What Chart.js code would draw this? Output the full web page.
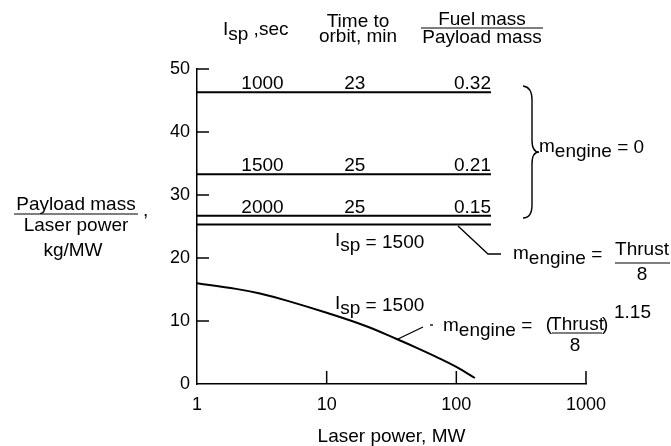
<!DOCTYPE html>
<html>
<head>
<meta charset="utf-8">
<script src="https://cdn.jsdelivr.net/npm/chart.js@4.4.0/dist/chart.umd.min.js"></script>
<style>
  html, body { margin: 0; padding: 0; background: #fff; }
  #wrap { width: 671px; height: 446px; }
</style>
</head>
<body>
<div id="wrap"><canvas id="myChart" width="671" height="446"></canvas></div>
<script>
const xTickValues = [1, 10, 100, 1000];
const ispSeconds = [1000, 1500, 2000];
const orbitMinutes = [23, 25, 25];
const fuelToPayload = ['0.32', '0.21', '0.15'];
const zeroEngineRatio = [46.3, 33.3, 26.7];
const thrustEngineRatio = 25.3;
const flatPowerRange = [1, 185];
const curvePower = [1, 2, 3, 5, 10, 20, 35, 50, 70, 100, 139];
const curveRatio = [16.0, 15.1, 14.4, 13.2, 11.3, 9.2, 7.1, 5.7, 4.3, 2.7, 0.95];

const FONT = '"Liberation Sans", Arial, sans-serif';
const SIZE = 19;

function flat(level) {
  return flatPowerRange.map(p => ({ x: p, y: level }));
}

const datasets = zeroEngineRatio.map(v => ({
  data: flat(v), borderColor: '#000', borderWidth: 2, pointRadius: 0
}));
datasets.push({ data: flat(thrustEngineRatio), borderColor: '#000', borderWidth: 2, pointRadius: 0 });
datasets.push({
  data: curvePower.map((p, i) => ({ x: p, y: curveRatio[i] })),
  borderColor: '#000', borderWidth: 2, pointRadius: 0, tension: 0.4
});

// draws text made of pieces, some of them lowered as subscripts
function rich(ctx, x, y, parts, align) {
  let w = 0;
  parts.forEach(p => { ctx.font = (p.size || SIZE) + 'px ' + FONT; w += ctx.measureText(p.t).width; });
  let cx = align === 'center' ? x - w / 2 : (align === 'right' ? x - w : x);
  ctx.textAlign = 'left';
  ctx.textBaseline = 'alphabetic';
  parts.forEach(p => {
    ctx.font = (p.size || SIZE) + 'px ' + FONT;
    ctx.fillText(p.t, cx, y + (p.dy || 0));
    cx += ctx.measureText(p.t).width;
  });
}

function txt(ctx, s, x, y, align) {
  rich(ctx, x, y, [{ t: s }], align);
}

function seg(ctx, pts, w) {
  ctx.beginPath();
  ctx.lineWidth = w || 1.3;
  ctx.moveTo(pts[0][0], pts[0][1]);
  for (let i = 1; i < pts.length; i++) ctx.lineTo(pts[i][0], pts[i][1]);
  ctx.stroke();
}

const annotations = {
  id: 'annotations',
  afterDraw(chart) {
    const ctx = chart.ctx;
    const xs = chart.scales.x, ys = chart.scales.y;
    const area = chart.chartArea;
    ctx.save();
    ctx.fillStyle = '#000';
    ctx.strokeStyle = '#000';

    // inside tick marks
    ys.ticks.forEach(t => {
      if (t.value === 0) return;
      const py = ys.getPixelForValue(t.value);
      seg(ctx, [[area.left, py], [area.left + 12, py]], 1.5);
    });
    xTickValues.forEach(v => {
      if (v === 1) return;
      const px = xs.getPixelForValue(v);
      seg(ctx, [[px, area.bottom], [px, area.bottom - 13]], 1.5);
    });

    // column headers
    rich(ctx, 223, 35, [{ t: 'I' }, { t: 'sp', dy: 5 }, { t: ' ,sec' }]);
    txt(ctx, 'Time to', 358, 27, 'center');
    txt(ctx, 'orbit, min', 358, 42, 'center');
    txt(ctx, 'Fuel mass', 482, 25, 'center');
    seg(ctx, [[421, 28], [543, 28]], 1.2);
    txt(ctx, 'Payload mass', 482, 43, 'center');

    // values on each m_engine = 0 line
    const endX = xs.getPixelForValue(flatPowerRange[1]);
    zeroEngineRatio.forEach((v, i) => {
      const py = ys.getPixelForValue(v) - 3;
      txt(ctx, String(ispSeconds[i]), xs.getPixelForValue(3.2), py, 'center');
      txt(ctx, String(orbitMinutes[i]), xs.getPixelForValue(16.5), py, 'center');
      txt(ctx, fuelToPayload[i], endX, py, 'right');
    });

    // y axis title
    txt(ctx, 'Payload mass', 76, 210, 'center');
    seg(ctx, [[14, 214], [138, 214]], 1.2);
    txt(ctx, 'Laser power', 76, 231, 'center');
    txt(ctx, ',', 143, 216, 'left');
    txt(ctx, 'kg/MW', 73, 256, 'center');

    // brace for m_engine = 0
    ctx.beginPath();
    ctx.lineWidth = 1.4;
    ctx.moveTo(523, 86);
    ctx.quadraticCurveTo(532, 87, 532, 100);
    ctx.lineTo(532, 140);
    ctx.quadraticCurveTo(532, 152, 539, 152);
    ctx.quadraticCurveTo(532, 152, 532, 164);
    ctx.lineTo(532, 205);
    ctx.quadraticCurveTo(532, 218, 523, 218);
    ctx.stroke();
    rich(ctx, 539, 152, [{ t: 'm' }, { t: 'engine', dy: 5 }, { t: ' = 0', dy: 1 }]);

    // m_engine = Thrust / 8
    seg(ctx, [[458, 226], [488, 254], [501, 254]]);
    rich(ctx, 513, 259, [{ t: 'm' }, { t: 'engine', dy: 5 }, { t: ' =', dy: 1 }]);
    txt(ctx, 'Thrust', 642, 255, 'center');
    seg(ctx, [[615, 263], [670, 263]], 1.2);
    txt(ctx, '8', 642, 280, 'center');
    rich(ctx, 335, 246, [{ t: 'I' }, { t: 'sp', dy: 5 }, { t: ' = 1500', dy: 2 }]);

    // curve label
    rich(ctx, 335, 309, [{ t: 'I' }, { t: 'sp', dy: 5 }, { t: ' = 1500', dy: 2 }]);
    seg(ctx, [[398, 339], [423, 327]]);
    seg(ctx, [[430, 325], [433, 325]]);
    rich(ctx, 443, 331, [{ t: 'm' }, { t: 'engine', dy: 5 }, { t: ' =' }]);
    txt(ctx, '(', 552, 330, 'right');
    txt(ctx, 'Thrust', 577, 330, 'center');
    seg(ctx, [[552, 333], [602, 333]], 1.2);
    txt(ctx, ')', 602, 330, 'left');
    txt(ctx, '1.15', 614, 318, 'left');
    txt(ctx, '8', 575, 351, 'center');

    ctx.restore();
  }
};

new Chart(document.getElementById('myChart'), {
  type: 'line',
  data: { datasets: datasets },
  options: {
    responsive: false,
    animation: false,
    events: [],
    layout: { padding: { top: 69, right: 85, left: 0, bottom: 0 } },
    plugins: { legend: { display: false }, tooltip: { enabled: false } },
    scales: {
      x: {
        type: 'logarithmic',
        min: 1,
        max: 1000,
        afterFit: s => { s.height = 62; },
        afterBuildTicks: s => { s.ticks = xTickValues.map(v => ({ value: v })); },
        grid: { display: false, drawTicks: false },
        border: { display: true, color: '#000', width: 1.5 },
        ticks: {
          color: '#000', font: { family: FONT, size: 18 }, padding: 10,
          autoSkip: false, maxRotation: 0, callback: v => String(v)
        },
        title: {
          display: true, text: 'Laser power, MW', color: '#000',
          font: { family: FONT, size: SIZE }, padding: { top: 0, bottom: -2 }
        }
      },
      y: {
        min: 0,
        max: 50,
        afterFit: s => { s.width = 197; },
        grid: { display: false, drawTicks: false },
        border: { display: true, color: '#000', width: 1.5 },
        ticks: { stepSize: 10, color: '#000', font: { family: FONT, size: 18 }, padding: 7 }
      }
    }
  },
  plugins: [annotations]
});
</script>
</body>
</html>
